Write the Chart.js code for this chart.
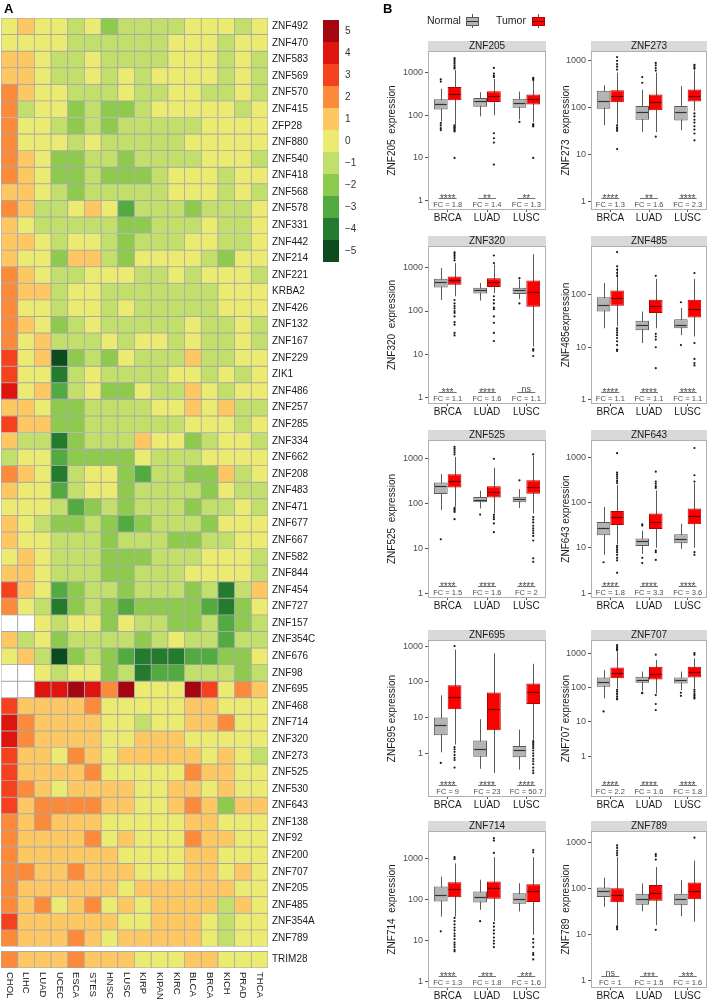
<!DOCTYPE html>
<html>
<head>
<meta charset="utf-8">
<title>KZFP expression across TCGA cohorts</title>
<script src="https://cdn.jsdelivr.net/npm/chart.js@4.4.1/dist/chart.umd.min.js"></script>
<style>
  body { margin: 0; background: #fff; font-family: "Liberation Sans", Arial, sans-serif; }
  #page { position: relative; width: 709px; height: 1002px; overflow: hidden; }
  .abs { position: absolute; }
  .letter { font-weight: bold; font-size: 13px; color: #000; }
  .key-cell { position: absolute; left: 323px; width: 16px; height: 22px; }
  .key-lbl { position: absolute; left: 345px; font-size: 10px; color: #333; line-height: 12px; }
  .leg-txt { position: absolute; top: 14px; font-size: 10.5px; color: #222; line-height: 13px; }
  .leg-icon { position: absolute; top: 14px; width: 13px; height: 14px; }
  .leg-icon .wh { position: absolute; left: 6px; top: 0; width: 1px; height: 14px; background: #555; }
  .leg-icon .bx { position: absolute; left: 0; top: 3px; width: 11px; height: 7px; border: 1px solid; }
  .leg-icon .md { position: absolute; left: 1px; top: 7px; width: 11px; height: 1px; }
</style>
</head>
<body>
<div id="page">
  <canvas id="heat" class="abs" width="322" height="1002" style="left:0;top:0"></canvas>
  <div class="abs letter" style="left:4px;top:1px">A</div>
  <div class="abs letter" style="left:383px;top:1px">B</div>
  <div class="leg-txt" style="left:427px">Normal</div>
  <div class="leg-icon" style="left:466px"><div class="wh"></div><div class="bx" style="background:#b4b4b4;border-color:#5a5a5a"></div><div class="md" style="background:#333"></div></div>
  <div class="leg-txt" style="left:496px">Tumor</div>
  <div class="leg-icon" style="left:532px"><div class="wh"></div><div class="bx" style="background:#ff0000;border-color:#b30000"></div><div class="md" style="background:#5c0000"></div></div>
</div>
<script>
'use strict';
const FONT = '"Liberation Sans", Arial, sans-serif';

// ── Panel A : heatmap (log2 fold change tumour vs normal) ──
const tumorTypes = ['CHOL','LIHC','LUAD','UCEC','ESCA','STES','HNSC','LUSC','KIRP','KIPAN','KIRC','BLCA','BRCA','KICH','PRAD','THCA'];
const heatGenes = ['ZNF492','ZNF470','ZNF583','ZNF569','ZNF570','ZNF415','ZFP28','ZNF880','ZNF540','ZNF418','ZNF568','ZNF578',
  'ZNF331','ZNF442','ZNF214','ZNF221','KRBA2','ZNF426','ZNF132','ZNF167','ZNF229','ZIK1','ZNF486','ZNF257','ZNF285','ZNF334',
  'ZNF662','ZNF208','ZNF483','ZNF471','ZNF677','ZNF667','ZNF582','ZNF844','ZNF454','ZNF727','ZNF157','ZNF354C','ZNF676','ZNF98',
  'ZNF695','ZNF468','ZNF714','ZNF320','ZNF273','ZNF525','ZNF530','ZNF643','ZNF138','ZNF92','ZNF200','ZNF707','ZNF205','ZNF485',
  'ZNF354A','ZNF789'];
const heatScores = [
  [0,1,0,0,-1,0,-2,-1,-1,-1,-1,0,0,0,-1,0],
  [0,0,0,0,-1,-1,-1,-1,-1,-1,0,0,0,-1,0,0],
  [1,1,0,-1,-1,0,-1,-1,-1,-1,0,0,0,-1,0,-1],
  [1,1,0,-1,-1,0,-1,0,-1,0,0,0,0,-1,0,-1],
  [2,1,0,0,-1,-1,-1,0,-1,-1,0,0,-1,-1,0,-1],
  [2,-1,0,0,-2,-1,-2,-2,-1,0,0,0,0,0,-1,0],
  [2,0,0,-1,-2,-1,-2,-1,-1,-1,-1,-1,0,0,0,0],
  [2,0,0,0,-1,0,-1,-1,-1,-1,-1,0,0,0,0,0],
  [2,1,0,-2,-2,-1,-1,-2,-1,-1,-1,-1,0,0,0,-1],
  [2,1,0,-2,-2,-1,-2,-2,-2,-1,0,0,0,-1,0,0],
  [1,1,0,-1,-2,-1,-1,-1,-1,-1,0,0,0,-1,0,-1],
  [2,1,-1,-1,0,1,0,-3,-1,-1,-1,-2,-1,-1,-1,0],
  [1,0,-1,-1,-1,-1,-1,-2,-2,-1,-1,-1,0,-1,-1,0],
  [1,1,0,-1,0,0,-1,-2,-1,-1,-1,0,0,-1,-1,0],
  [1,0,0,-2,1,1,-1,-2,0,0,0,0,-1,-2,0,0],
  [2,1,0,-1,-1,0,0,0,-1,-1,0,-1,0,0,0,-1],
  [2,1,1,-1,0,0,-1,-1,-1,-1,-1,-1,-1,0,0,0],
  [2,0,0,-1,0,0,-1,0,-1,-1,-1,-1,-1,0,0,0],
  [2,1,0,-2,-1,0,-1,-1,-1,-1,-1,0,-1,-1,0,-1],
  [2,0,1,-1,-1,-1,0,-1,0,0,-1,0,-1,-1,0,-1],
  [3,0,1,-5,-2,-1,-2,0,-1,-1,-1,1,-1,-1,0,0],
  [3,0,0,-4,-1,0,-1,-1,-1,-1,0,0,-1,0,-1,0],
  [4,0,1,-3,-1,0,-2,-2,0,-1,-1,1,0,-1,0,0],
  [1,1,0,-2,-2,-1,-1,-1,-1,0,0,1,0,1,-1,-1],
  [3,1,1,-2,-2,-1,-1,-1,-1,-1,-1,0,0,0,-1,0],
  [1,-1,-1,-4,-2,-1,-1,-1,1,0,0,-2,-1,0,0,-1],
  [-1,0,0,-3,-2,-2,-2,-2,0,-1,-1,-1,0,0,0,0],
  [2,1,0,-4,-1,0,0,-2,-3,-1,-1,-2,-2,1,-1,0],
  [1,0,0,-3,-1,0,0,-2,-1,-1,-1,-1,-2,0,-1,-1],
  [0,0,0,-1,-3,-2,-1,-2,-1,-1,-1,-2,-1,-1,0,-1],
  [1,0,-1,-2,-2,-1,-2,-3,-2,-1,-1,-1,-2,0,0,0],
  [1,0,0,-1,-1,-1,-2,-1,-1,-1,-2,-2,-1,-1,0,0],
  [0,1,0,-1,-1,-1,-2,-2,-2,-1,-1,-1,0,0,0,-1],
  [1,1,0,-1,-1,-1,-2,-2,-1,-1,-1,0,0,0,0,-1],
  [3,1,0,-3,-2,-1,-1,-2,-1,-1,-1,-2,-1,-4,-1,1],
  [2,0,-1,-4,-2,-1,-2,-3,-2,-2,-2,-2,-3,-4,-2,0],
  [null,null,0,-1,0,0,-2,0,-1,-1,-2,-2,-1,-3,-2,-1],
  [1,-1,0,-2,-1,-1,-1,-1,-2,-1,0,-1,-1,-3,-1,-1],
  [0,1,-1,-5,-2,-1,-2,-3,-4,-4,-4,-3,-3,-2,-2,0],
  [null,null,0,-1,0,0,-2,-1,-4,-3,-3,-1,-1,-1,-2,-1],
  [null,null,4,4,5,4,2,5,0,0,0,5,3,0,2,1],
  [3,1,1,1,1,2,0,0,0,0,0,1,1,0,0,0],
  [4,2,1,1,1,1,0,0,-1,0,0,1,1,2,0,0],
  [4,2,1,1,1,1,0,0,1,1,1,0,0,0,0,0],
  [3,1,1,0,2,1,0,1,1,1,1,1,0,1,0,-1],
  [3,1,1,1,1,2,0,0,0,0,0,2,1,1,0,0],
  [3,2,1,0,1,1,1,1,0,0,1,1,0,1,0,0],
  [3,1,2,2,2,2,1,1,0,0,1,2,1,-2,1,1],
  [2,1,2,1,1,1,0,0,0,0,0,1,1,0,0,0],
  [2,1,1,1,1,2,0,1,0,0,0,2,1,1,0,0],
  [2,1,1,1,1,1,1,0,0,0,0,1,1,0,0,0],
  [2,2,1,1,2,1,1,1,0,0,0,1,1,0,1,0],
  [2,1,1,1,1,1,1,0,1,1,1,1,1,1,0,0],
  [2,1,2,0,1,2,0,1,0,1,1,1,1,-1,1,0],
  [3,1,1,1,1,1,1,0,0,1,1,1,0,-1,0,0],
  [2,1,1,1,2,1,0,1,1,1,1,1,0,-1,0,0]
];
const refGene = 'TRIM28';
const refScores = [2,1,1,1,2,1,1,1,0,0,0,1,1,0,0,0];
const keyLevels = [5,4,3,2,1,0,-1,-2,-3,-4,-5];

// ── Panel B : boxplots, [lower whisker, Q1, median, Q3, upper whisker] per cohort ──
const cohorts = ['BRCA','LUAD','LUSC'];
const boxGenes = ['ZNF205','ZNF273','ZNF320','ZNF485','ZNF525','ZNF643','ZNF695','ZNF707','ZNF714','ZNF789'];
const yTitles = ['ZNF205  expression','ZNF273  expression','ZNF320  expression','ZNF485expression','ZNF525  expression',
  'ZNF643 expression','ZNF695 expression','ZNF707 expression','ZNF714  expression','ZNF789  expression'];
const yLimits = [[0.62,3240],[0.65,1620],[0.69,3240],[0.83,850],[0.78,2630],[0.78,2400],[0.06,1480],[0.065,2400],[0.71,4800],[0.74,1740]];
const normalBoxes = [
  [[72,138,182,240,420],[95,160,212,255,350],[80,150,192,245,360]],
  [[42,95,140,230,300],[30,55,82,108,240],[33,53,80,108,290]],
  [[180,350,480,560,1000],[175,255,300,345,450],[190,250,300,345,540]],
  [[23,48,64,90,167],[12,21,27,32,48],[17,23,26,34,56]],
  [[72,163,250,297,460],[78,107,122,140,195],[80,107,125,143,210]],
  [[7,19,28,37,80],[7.4,11,14,16,24],[9.5,12.6,16,20,34]],
  [[1.07,3.2,6.3,10,42],[0.37,0.8,1.35,2.3,9],[0.35,0.78,1.25,1.6,4.6]],
  [[48,104,146,196,320],[80,136,170,205,290],[84,130,160,196,290]],
  [[39,91,132,211,370],[57,86,120,160,310],[52,80,106,145,255]],
  [[40,65,88,105,170],[32,44,58,76,128],[25,43,58,76,150]]
];
const tumorBoxes = [
  [[60,225,310,460,1150],[100,205,285,370,720],[70,180,245,310,650]],
  [[45,130,175,235,560],[30,88,130,190,560],[85,135,175,245,620]],
  [[220,410,520,630,1300],[260,360,470,580,1200],[15,125,280,510,2100]],
  [[25,62,88,121,330],[23,45,60,80,200],[16,37,53,80,200]],
  [[85,230,315,450,1100],[60,136,186,245,630],[60,165,240,330,1150]],
  [[12,32,47,65,243],[10,26,38,57,185],[10,33,50,74,265]],
  [[1.75,17,37,80,800],[0.28,4.4,17,50,630],[2.4,24,52,90,320]],
  [[93,185,265,380,1100],[67,170,245,400,630],[93,195,285,400,700]],
  [[39,116,182,270,780],[30,106,193,280,1100],[14,88,160,240,1100]],
  [[16,50,72,100,475],[16,54,80,118,290],[19,58,88,134,400]]
];
const normalOutliers = [
  [[700,620,66,58,50,45],[],[70]],
  [[],[450,340],[]],
  [[],[],[580,150]],
  [[],[],[72,11]],
  [[16],[57],[330]],
  [[4.8],[33,31,6,4.6],[]],
  [[0.54],[],[]],
  [[20],[68,70],[70,57]],
  [[17],[30],[]],
  [[],[],[]]
];
const tumorOutliers = [
  [[2200,2000,1800,1650,1500,1350,1250,58,55,52,50,47,44,42,10],[1300,950,850,800,38,29,23,7],[760,720,680,62,58,55,10]],
  [[1200,1000,850,750,650,42,38,35,32,13],[900,800,700,620,24],[820,780,720,680,75,65,55,48,40,34,28,20]],
  [[2300,2100,1900,1700,1500,180,150,130,115,100,90,75,55,48,31,27],[1950,1300,220,180,150,120,110,75,53,31,20],[13,12,9]],
  [[650,350,300,260,230,23,21,19,17,15,13,11,9,8.5],[230,18,16,14,10,4],[260,12,6,5,4.5]],
  [[1850,1700,1550,1400,1250,80,75,70,65,45],[1000,56,50,45,36,23],[1250,50,44,38,32,28,25,22,19,15,6,5]],
  [[1230,460,420,380,340,300,270,11,10,9,8,7,6,5.3,2.8],[480,290,260,230,210,8.7,8,5.4],[1600,400,290,8,7]],
  [[1000,1.5,1.3,1.1,0.9,0.75,0.65,0.4],[],[2.2,2,1.8,1.6,1.4,1.2,1,0.85,0.7,0.6,0.5,0.4,0.33,0.28]],
  [[1700,1500,1400,1300,1200,85,75,65,55,48,45],[900,60,33,22],[1000,900,85,75,65,58,52,48]],
  [[1100,1000,36,30,25,21,18,15,13,11,9,8,7,6,5.5],[3200,2800,1400,27,22,18,15,12,10,8.5,7],[1650,1450,11,9,7,5,4.5,3.5]],
  [[850,750,650,580,520,15,14,13],[550,500,420,12.7],[1250]]
];
const signif = [
  ['****','**','**'],['****','**','****'],['***','****','ns'],['****','****','****'],['****','****','****'],
  ['****','****','****'],['****','****','****'],['****','****','****'],['****','***','***'],['ns','***','***']
];
const foldChanges = [
  ['1.8','1.4','1.3'],['1.3','1.6','2.3'],['1.1','1.6','1.1'],['1.1','1.1','1.1'],['1.5','1.6','2'],
  ['1.8','3.3','3.6'],['9','23','50.7'],['2.2','1.6','1.8'],['1.3','1.8','1.6'],['1','1.5','1.6']
];

// colours for -5 … 5
const scoreColours = ['#0d4a1d','#257b2d','#52aa41','#8dca4e','#c1df6a','#ebeb72','#fdc764','#fb8a3a','#f6411f','#e0140f','#a3060f'];
const cellColour = v => v === null ? '#ffffff' : scoreColours[Math.max(-5, Math.min(5, Math.round(v))) + 5];

const page = document.getElementById('page');

// colour key
keyLevels.forEach((lv, i) => {
  const cell = document.createElement('div');
  cell.className = 'key-cell';
  cell.style.top = (20 + i * 22) + 'px';
  cell.style.background = cellColour(lv);
  page.appendChild(cell);
  const lbl = document.createElement('div');
  lbl.className = 'key-lbl';
  lbl.style.top = (20 + i * 22 + 5) + 'px';
  lbl.textContent = lv < 0 ? '\u2212' + Math.abs(lv) : String(lv);
  page.appendChild(lbl);
});

// heatmap: one floating-bar dataset per gene row, TRIM28 set apart by a small gap
const GAP = 0.3;
const rowNames = heatGenes.concat([refGene]);
const rowScores = heatScores.concat([refScores]);
const rowStart = rowNames.map((g, i) => i < heatGenes.length ? i : i + GAP);
const rowCentres = rowStart.map(s => s + 0.5);

const colLabels = {
  id: 'colLabels',
  afterDraw(chart) {
    const {ctx, chartArea, scales: {x}} = chart;
    ctx.save();
    ctx.font = '9.5px ' + FONT; ctx.fillStyle = '#1a1a1a';
    ctx.textAlign = 'left'; ctx.textBaseline = 'middle';
    tumorTypes.forEach((t, i) => {
      ctx.save();
      ctx.translate(x.getPixelForValue(i), chartArea.bottom + 4);
      ctx.rotate(Math.PI / 2);
      ctx.fillText(t, 0, 0);
      ctx.restore();
    });
    ctx.restore();
  }
};

new Chart(document.getElementById('heat'), {
  type: 'bar',
  data: {
    labels: tumorTypes,
    datasets: rowScores.map((row, r) => ({
      data: row.map(() => [rowStart[r], rowStart[r] + 1]),
      backgroundColor: row.map(cellColour),
      borderColor: '#a8a8a8', borderWidth: 0.8, borderSkipped: false
    }))
  },
  options: {
    responsive: false, animation: false, events: [],
    layout: { padding: { left: 1, top: 18, right: 0, bottom: 34 } },
    datasets: { bar: { barPercentage: 1, categoryPercentage: 1 } },
    plugins: { legend: { display: false }, tooltip: { enabled: false } },
    scales: {
      x: { stacked: true, grid: { display: false, drawTicks: false }, border: { display: false }, ticks: { display: false },
           afterFit: s => { s.height = 0; } },
      y: { stacked: false, min: 0, max: rowNames.length + GAP, reverse: true, position: 'right',
           grid: { display: false, drawTicks: false }, border: { display: false },
           afterBuildTicks: s => { s.ticks = rowCentres.map(v => ({ value: v })); },
           afterFit: s => { s.width = 54; },
           ticks: { autoSkip: false, padding: 4, color: '#1a1a1a', font: { size: 10, family: FONT },
                    callback: (v, i) => rowNames[i] } }
    }
  },
  plugins: [colLabels]
});

// boxplot pieces: whiskers under the boxes, medians and outliers on top, strip + significance after
const boxParts = {
  id: 'boxParts',
  beforeDatasetsDraw(chart) {
    const {ctx, scales: {y}} = chart;
    ctx.save();
    ctx.strokeStyle = '#5a5a5a'; ctx.lineWidth = 1;
    chart.data.datasets.forEach((ds, i) => {
      chart.getDatasetMeta(i).data.forEach((bar, j) => {
        const s = ds.stats[j], x = Math.round(bar.x) + 0.5;
        ctx.beginPath();
        ctx.moveTo(x, y.getPixelForValue(s[0]));
        ctx.lineTo(x, y.getPixelForValue(s[4]));
        ctx.stroke();
      });
    });
    ctx.restore();
  },
  afterDatasetsDraw(chart) {
    const {ctx, scales: {y}} = chart;
    ctx.save();
    chart.data.datasets.forEach((ds, i) => {
      chart.getDatasetMeta(i).data.forEach((bar, j) => {
        const half = bar.width / 2, ym = Math.round(y.getPixelForValue(ds.stats[j][2])) + 0.5;
        ctx.strokeStyle = ds.medianColor; ctx.lineWidth = 1.2;
        ctx.beginPath(); ctx.moveTo(bar.x - half + 1, ym); ctx.lineTo(bar.x + half - 1, ym); ctx.stroke();
        ctx.fillStyle = '#1a1a1a';
        ds.outliers[j].forEach(v => {
          ctx.beginPath(); ctx.arc(bar.x, y.getPixelForValue(v), 1.1, 0, Math.PI * 2); ctx.fill();
        });
      });
    });
    ctx.restore();
  },
  afterDraw(chart, args, opts) {
    const {ctx, chartArea: a, scales: {x}} = chart, p = opts.panel;
    ctx.save();
    ctx.strokeStyle = '#b0b0b0'; ctx.lineWidth = 1;
    ctx.strokeRect(a.left + 0.5, a.top + 0.5, a.width - 1, a.height - 1);
    ctx.fillStyle = '#d9d9d9';
    ctx.fillRect(a.left, a.top - 10, a.width, 10);
    ctx.fillStyle = '#1a1a1a'; ctx.font = '10px ' + FONT;
    ctx.textAlign = 'center'; ctx.textBaseline = 'middle';
    ctx.fillText(boxGenes[p], (a.left + a.right) / 2, a.top - 4.5);
    const b = a.bottom;
    cohorts.forEach((c, j) => {
      const cx = x.getPixelForValue(j), ns = signif[p][j] === 'ns';
      ctx.fillStyle = '#4d4d4d'; ctx.strokeStyle = '#4d4d4d';
      ctx.font = (ns ? '9px ' : '10px ') + FONT; ctx.textBaseline = 'alphabetic';
      ctx.fillText(signif[p][j], cx, ns ? b - 12.5 : b - 8.5);
      ctx.lineWidth = 0.8;
      ctx.beginPath(); ctx.moveTo(cx - 9, b - 11.5); ctx.lineTo(cx + 9, b - 11.5); ctx.stroke();
      ctx.font = '7.5px ' + FONT; ctx.textBaseline = 'middle';
      ctx.fillText('FC = ' + foldChanges[p][j], cx, b - 5.5);
    });
    ctx.restore();
  }
};

const stripTops = [41, 236, 430, 630, 821];
const plotHeights = [159, 158, 158, 157, 157];

boxGenes.forEach((gene, p) => {
  const col = p % 2, row = Math.floor(p / 2);
  const canvas = document.createElement('canvas');
  canvas.width = col ? 159 : 170;
  canvas.height = 10 + plotHeights[row] + 14;
  canvas.className = 'abs';
  canvas.style.left = (col ? 550 : 380) + 'px';
  canvas.style.top = stripTops[row] + 'px';
  page.appendChild(canvas);
  new Chart(canvas, {
    type: 'bar',
    data: {
      labels: cohorts,
      datasets: [
        { label: 'Normal', data: normalBoxes[p].map(b => [b[1], b[3]]), stats: normalBoxes[p], outliers: normalOutliers[p],
          backgroundColor: '#b4b4b4', borderColor: '#5a5a5a', medianColor: '#333333', borderWidth: 1, borderSkipped: false },
        { label: 'Tumor', data: tumorBoxes[p].map(b => [b[1], b[3]]), stats: tumorBoxes[p], outliers: tumorOutliers[p],
          backgroundColor: '#ff0000', borderColor: '#b30000', medianColor: '#5c0000', borderWidth: 1, borderSkipped: false }
      ]
    },
    options: {
      responsive: false, animation: false, events: [],
      layout: { padding: { left: col ? 8 : 4, right: col ? 2 : 4, top: 10, bottom: 0 } },
      datasets: { bar: { barPercentage: 1, categoryPercentage: 0.7 } },
      plugins: { legend: { display: false }, tooltip: { enabled: false }, boxParts: { panel: p } },
      scales: {
        x: { offset: true, afterFit: s => { s.height = 14; },
             grid: { drawOnChartArea: false, offset: false, tickLength: 2, color: '#555' }, border: { display: false },
             ticks: { color: '#1a1a1a', font: { size: 10, family: FONT }, padding: 0 } },
        y: { type: 'logarithmic', min: yLimits[p][0], max: yLimits[p][1],
             afterBuildTicks: s => { s.ticks = [1, 10, 100, 1000].filter(v => v >= s.min && v <= s.max).map(v => ({ value: v })); },
             afterFit: s => { s.width = col ? 33 : 44; },
             grid: { drawOnChartArea: false, tickLength: 3, color: '#555' }, border: { display: false },
             ticks: { color: '#4d4d4d', font: { size: 9, family: FONT }, padding: 2, callback: v => String(v) },
             title: { display: true, text: yTitles[p], color: '#1a1a1a', font: { size: 10, family: FONT }, padding: { top: 2, bottom: 0 } } }
      }
    },
    plugins: [boxParts]
  });
});
</script>
</body>
</html>
